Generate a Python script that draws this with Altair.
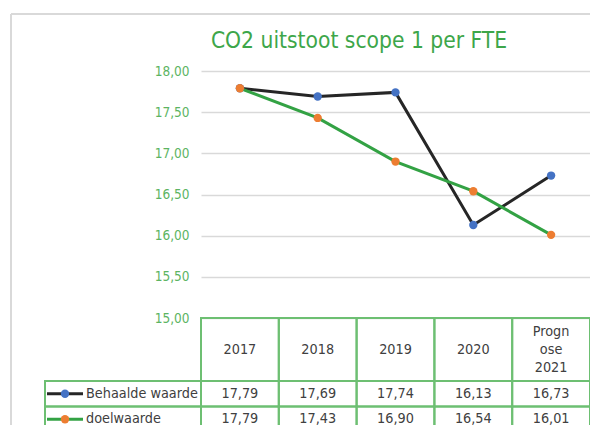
import altair as alt
import pandas as pd

# ---- data ----
title_text = "CO2 uitstoot scope 1 per FTE"
years = ["2017", "2018", "2019", "2020", "Prognose 2021"]
header_labels = ["2017", "2018", "2019", "2020", "Progn\nose\n2021"]
series = ["Behaalde waarde", "doelwaarde"]
behaald = [17.79, 17.69, 17.74, 16.13, 16.73]
doel = [17.79, 17.43, 16.90, 16.54, 16.01]
y_ticks = [15.0, 15.5, 16.0, 16.5, 17.0, 17.5, 18.0]

# ---- styles ----
FONT = "DejaVu Sans Condensed"
line_colors = ["#262626", "#33a244"]
marker_colors = ["#4472c4", "#ed7d31"]
TITLE_GREEN = "#3da64a"
LABEL_GREEN = "#5cb462"
TABLE_GREEN = "#6dbf72"
TEXT_GRAY = "#404040"
GRID = "#d9d9d9"
TFS = 14.3        # table font size

W = 389          # plot / table width
PLOT_H = 247     # line plot height
HEAD_B = 310     # bottom of header row
H = 361          # total height incl. table (cut off by the window)
LH = 18          # header line height

rows = []
for s, vals in zip(series, [behaald, doel]):
    for yr, v in zip(years, vals):
        rows.append({"year": yr, "series": s, "value": v})
df = pd.DataFrame(rows)
hdr = pd.DataFrame({"year": years, "header": header_labels})
leg = pd.DataFrame({"series": series})
one = pd.DataFrame({"title": [title_text]})

fmt = "replace(format(datum.value, '.2f'), '.', ',')"

x_enc = alt.X("year:N", sort=years,
              scale=alt.Scale(type="band", domain=years, paddingInner=0, paddingOuter=0),
              axis=None)
val_scale = alt.Scale(domain=[15, 18], range=[PLOT_H, 0], nice=False, zero=False)
row_scale = alt.Scale(type="band", domain=series, range=[HEAD_B, H], paddingInner=0, paddingOuter=0)
row_y = alt.Y("series:N", scale=row_scale, axis=None)
line_color = alt.Color("series:N", scale=alt.Scale(domain=series, range=line_colors), legend=None)
marker_fill = alt.Fill("series:N", scale=alt.Scale(domain=series, range=marker_colors), legend=None)

# chart-area frame (top and left edges; the rest lies outside the picture)
frame_top = alt.Chart(one).mark_rule(stroke="#d9d9d9", strokeWidth=2).encode(
    x=alt.value(-190), x2=alt.value(W), y=alt.value(-57)
)
frame_left = alt.Chart(one).mark_rule(stroke="#d9d9d9", strokeWidth=2).encode(
    x=alt.value(-190), y=alt.value(-57), y2=alt.value(H)
)

title = alt.Chart(one).mark_text(font=FONT, fontSize=22.6, color=TITLE_GREEN,
                                 align="center", baseline="alphabetic").encode(
    x=alt.value(158), y=alt.value(-23), text="title:N"
)

lines = alt.Chart(df).mark_line(strokeWidth=3).encode(
    x=x_enc,
    y=alt.Y("value:Q", scale=val_scale,
            axis=alt.Axis(values=y_ticks, labelExpr=fmt, title=None, domain=False, ticks=False,
                          labelColor=LABEL_GREEN, labelFont=FONT, labelFontSize=13.5,
                          labelPadding=12, grid=True, gridColor=GRID, gridWidth=1.5)),
    color=line_color,
)

points = alt.Chart(df).mark_point(filled=True, size=70, opacity=1, strokeWidth=0).encode(
    x=x_enc,
    y=alt.Y("value:Q", scale=val_scale, axis=None),
    fill=marker_fill,
)

head_cells = alt.Chart(hdr).mark_rect(fillOpacity=0, stroke=TABLE_GREEN, strokeWidth=2).encode(
    x=x_enc, y=alt.value(PLOT_H), y2=alt.value(HEAD_B)
)
head_mid = (PLOT_H + HEAD_B) / 2
head_text1 = alt.Chart(hdr).transform_filter("indexof(datum.header, '\\n') < 0").mark_text(
    font=FONT, fontSize=TFS, color=TEXT_GRAY, baseline="middle").encode(
    x=x_enc, y=alt.value(head_mid), text="header:N"
)
head_text3 = alt.Chart(hdr).transform_filter("indexof(datum.header, '\\n') >= 0").mark_text(
    font=FONT, fontSize=TFS, color=TEXT_GRAY, lineBreak="\n", lineHeight=LH,
    baseline="middle", dy=-LH).encode(
    x=x_enc, y=alt.value(head_mid), text="header:N"
)

cells = alt.Chart(df).mark_rect(fillOpacity=0, stroke=TABLE_GREEN, strokeWidth=2).encode(
    x=x_enc, y=row_y
)
cell_text = alt.Chart(df).transform_calculate(label=fmt).mark_text(
    font=FONT, fontSize=TFS, color=TEXT_GRAY, baseline="middle").encode(
    x=x_enc, y=row_y, text="label:N"
)

leg_cells = alt.Chart(leg).mark_rect(fillOpacity=0, stroke=TABLE_GREEN, strokeWidth=2).encode(
    x=alt.value(-156), x2=alt.value(0), y=row_y
)
leg_lines = alt.Chart(leg).mark_rule(strokeWidth=3).encode(
    x=alt.value(-154), x2=alt.value(-118), y=row_y, color=line_color
)
leg_points = alt.Chart(leg).mark_point(filled=True, size=70, opacity=1, strokeWidth=0).encode(
    x=alt.value(-136), y=row_y, fill=marker_fill
)
leg_text = alt.Chart(leg).mark_text(font=FONT, fontSize=TFS, color=TEXT_GRAY, align="left",
                                    baseline="middle").encode(
    x=alt.value(-115), y=row_y, text="series:N"
)

chart = alt.layer(
    frame_top, frame_left, title, lines, points, head_cells, head_text1, head_text3,
    cells, cell_text, leg_cells, leg_lines, leg_points, leg_text
).resolve_scale(y="independent").properties(
    width=W, height=H,
    autosize=alt.AutoSizeParams(type="none"),
    padding={"left": 193, "top": 63, "right": 0, "bottom": 0},
    background="white",
).configure_view(stroke=None)

chart.save("out.html", embed_options={"renderer": "svg", "actions": False})
